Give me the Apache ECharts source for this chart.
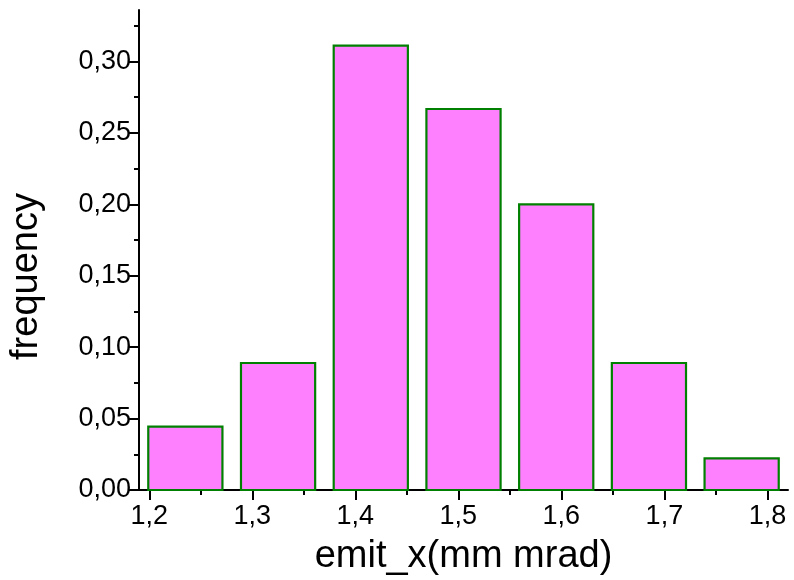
<!DOCTYPE html>
<html>
<head>
<meta charset="utf-8">
<script src="https://cdn.jsdelivr.net/npm/echarts@6/dist/echarts.min.js"></script>
<style>
html,body{margin:0;padding:0;background:#fff;}
#chart{width:794px;height:580px;}
</style>
</head>
<body>
<div id="chart"></div>
<script>
// Histogram bin edges (emit_x, mm mrad)
const binEdges = [1.19, 1.28, 1.37, 1.46, 1.55, 1.64, 1.73, 1.82];
// Frequency per bin
const frequencies = [0.0444, 0.0889, 0.3111, 0.2667, 0.2000, 0.0889, 0.0222];
// Tick values
const xMajorTicks = [1.2, 1.3, 1.4, 1.5, 1.6, 1.7, 1.8];
const xMinorTicks = [1.25, 1.35, 1.45, 1.55, 1.65, 1.75];
const yMajorTicks = [0, 0.05, 0.10, 0.15, 0.20, 0.25, 0.30];
const yMinorTicks = [0.025, 0.075, 0.125, 0.175, 0.225, 0.275, 0.325];

const xMin = binEdges[0], xMax = binEdges[binEdges.length - 1];
const yMin = 0, yMax = 0.336;
const barFraction = 0.8;

const histData = frequencies.map((f, i) => [binEdges[i], binEdges[i + 1], f]);

const FONT = 'Liberation Sans, Arial, sans-serif';
const fmt = v => v.toFixed(2).replace('.', ',');
const fmtX = v => v.toFixed(1).replace('.', ',');

const gridBox = { left: 139, right: 6, top: 10, bottom: 90, outerBoundsMode: 'none', containLabel: false };

const chart = echarts.init(document.getElementById('chart'), null, { renderer: 'canvas' });
chart.setOption({
  animation: false,
  backgroundColor: '#ffffff',
  grid: [Object.assign({}, gridBox), Object.assign({}, gridBox)],
  xAxis: [{
    type: 'value', gridIndex: 0, min: xMin, max: xMax,
    name: 'emit_x(mm mrad)', nameLocation: 'middle', nameGap: 48,
    nameTextStyle: { fontFamily: FONT, fontSize: 38, color: '#000' },
    axisLine: { show: true, onZero: false, lineStyle: { color: '#000', width: 2 } },
    axisTick: { show: true, inside: false, length: 10, customValues: xMajorTicks, lineStyle: { color: '#000', width: 2 } },
    axisLabel: { show: true, customValues: xMajorTicks, formatter: fmtX, fontFamily: FONT, fontSize: 27, color: '#000', margin: 13 },
    splitLine: { show: false }
  }, {
    type: 'value', gridIndex: 1, min: xMin, max: xMax,
    axisLine: { show: false, onZero: false },
    axisTick: { show: true, inside: false, length: 5, customValues: xMinorTicks, lineStyle: { color: '#000', width: 2 } },
    axisLabel: { show: false },
    splitLine: { show: false }
  }],
  yAxis: [{
    type: 'value', gridIndex: 0, min: yMin, max: yMax,
    name: 'frequency', nameLocation: 'middle', nameGap: 93,
    nameTextStyle: { fontFamily: FONT, fontSize: 38, color: '#000', padding: [0, 53, 0, 0] },
    axisLine: { show: true, onZero: false, lineStyle: { color: '#000', width: 2 } },
    axisTick: { show: true, inside: false, length: 10, customValues: yMajorTicks, lineStyle: { color: '#000', width: 2 } },
    axisLabel: { show: true, customValues: yMajorTicks, formatter: fmt, fontFamily: FONT, fontSize: 27, color: '#000', margin: 8 },
    splitLine: { show: false }
  }, {
    type: 'value', gridIndex: 1, min: yMin, max: yMax,
    axisLine: { show: false, onZero: false },
    axisTick: { show: true, inside: false, length: 5, customValues: yMinorTicks, lineStyle: { color: '#000', width: 2 } },
    axisLabel: { show: false },
    splitLine: { show: false }
  }],
  series: [{
    type: 'custom',
    xAxisIndex: 0, yAxisIndex: 0,
    data: histData,
    encode: { x: [0, 1], y: 2 },
    renderItem: function (params, api) {
      const lo = api.value(0), hi = api.value(1), v = api.value(2);
      const c = (lo + hi) / 2, half = (hi - lo) * barFraction / 2;
      const p0 = api.coord([c - half, 0]);
      const p1 = api.coord([c + half, v]);
      return {
        type: 'rect',
        shape: { x: p0[0], y: p1[1], width: p1[0] - p0[0], height: p0[1] - p1[1] },
        style: { fill: '#FF80FF', stroke: '#008000', lineWidth: 2.2 }
      };
    }
  }]
});
</script>
</body>
</html>
